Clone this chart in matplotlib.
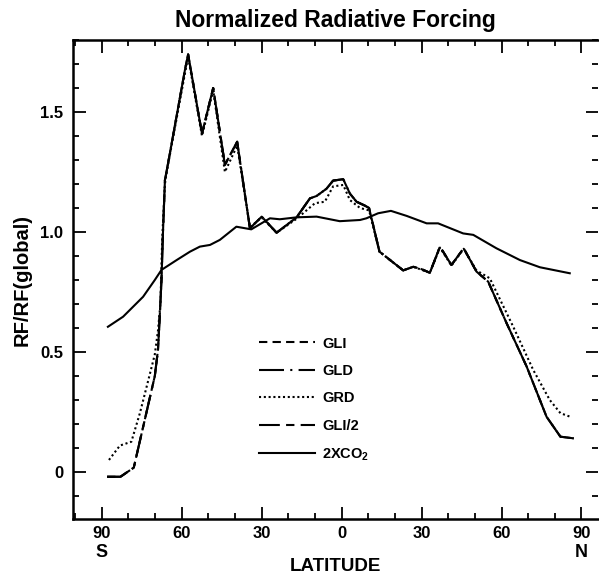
import numpy as np
import matplotlib
matplotlib.use("Agg")
import matplotlib.pyplot as plt
from matplotlib.ticker import FixedLocator, MultipleLocator, FuncFormatter

plt.rcParams["font.family"] = ["Liberation Sans", "DejaVu Sans"]
plt.rcParams["font.weight"] = "bold"
plt.rcParams["mathtext.fontset"] = "custom"
plt.rcParams["mathtext.rm"] = "Liberation Sans:bold"
plt.rcParams["mathtext.bf"] = "Liberation Sans:bold"

# 緯度 (南 = 負, 北 = 正) と値
lat_gli = [-88, -83, -78, -73.3, -70.1, -68.9, -68.2, -67.6, -67.0, -66.3, -65.8,
           -58.8, -57.6, -52.4, -48.2, -43.8, -39.2, -34.4, -30.0, -24.4, -16.9,
           -11.9, -9.4, -5.7, -3.2, 0.6, 3.1, 5.6, 8.7, 10.3, 14.2, 23.1, 26.9,
           30.0, 33.1, 36.9, 41.2, 45.8, 50.6, 55.0, 61.9, 69.4, 76.9, 82.1, 87.1]
rf_gli = [-0.02, -0.02, 0.018, 0.245, 0.40, 0.51, 0.66, 0.80, 1.01, 1.217, 1.245,
          1.675, 1.74, 1.41, 1.60, 1.28, 1.376, 1.015, 1.064, 0.997, 1.061,
          1.14, 1.15, 1.18, 1.214, 1.22, 1.16, 1.126, 1.11, 1.10, 0.918, 0.84, 0.855,
          0.845, 0.83, 0.939, 0.8625, 0.932, 0.835, 0.793, 0.62, 0.44, 0.23, 0.147, 0.14]

lat_gld = lat_gli
rf_gld = [-0.02, -0.02, 0.018, 0.245, 0.40, 0.51, 0.66, 0.80, 1.01, 1.217, 1.245,
          1.675, 1.74, 1.41, 1.60, 1.28, 1.376, 1.015, 1.064, 0.997, 1.061,
          1.14, 1.15, 1.18, 1.214, 1.22, 1.16, 1.126, 1.11, 1.10, 0.918, 0.84, 0.855,
          0.845, 0.83, 0.939, 0.8625, 0.932, 0.835, 0.793, 0.62, 0.44, 0.23, 0.147, 0.14]

lat_gli2 = lat_gli
rf_gli2 = [-0.02, -0.02, 0.018, 0.245, 0.40, 0.51, 0.66, 0.80, 1.01, 1.217, 1.245,
           1.675, 1.74, 1.41, 1.60, 1.28, 1.376, 1.015, 1.064, 0.997, 1.061,
           1.14, 1.15, 1.18, 1.214, 1.22, 1.16, 1.126, 1.11, 1.10, 0.918, 0.84, 0.855,
           0.845, 0.83, 0.939, 0.8625, 0.932, 0.835, 0.793, 0.62, 0.44, 0.23, 0.147, 0.14]

lat_grd = [-87.3, -83.2, -78.9, -75.7, -72.6, -70.1, -68.9, -68.0, -67.3, -66.3, -65.8,
           -58.8, -57.6, -52.4, -48.2, -43.8, -39.2, -34.4, -30.0, -24.4, -16.9,
           -10.0, -6.3, -3.2, 0.6, 3.1, 6.9, 10.3, 14.2, 23.1, 26.9, 33.1, 36.9,
           41.2, 45.8, 50.6, 55.6, 64.4, 71.9, 78.1, 82.1, 85.8]
rf_grd = [0.05, 0.11, 0.126, 0.245, 0.38, 0.49, 0.59, 0.70, 0.98, 1.20, 1.24,
          1.66, 1.73, 1.40, 1.59, 1.25, 1.36, 1.02, 1.06, 0.997, 1.055,
          1.12, 1.126, 1.19, 1.196, 1.133, 1.10, 1.09, 0.918, 0.84, 0.855, 0.83, 0.935,
          0.86, 0.93, 0.84, 0.807, 0.605, 0.425, 0.30, 0.245, 0.23]

lat_co2 = [-87.7, -82, -74.5, -70.1, -67.6, -61.9, -56.9, -53.2, -49.4, -45.7, -39.5,
           -33.9, -26.9, -23.2, -16.9, -9.4, -0.7, 6.9, 9.3, 13.7, 18.5, 24.4, 31.9,
           36.2, 45.6, 49.4, 58.1, 66.9, 74.4, 85.6]
rf_co2 = [0.605, 0.647, 0.73, 0.80, 0.842, 0.883, 0.918, 0.939, 0.946, 0.967, 1.022,
          1.011, 1.057, 1.053, 1.061, 1.064, 1.045, 1.05, 1.057, 1.078, 1.088, 1.067, 1.036,
          1.036, 0.994, 0.988, 0.932, 0.883, 0.853, 0.828]

x_ticks = [-90, -60, -30, 0, 30, 60, 90]
y_ticks = [0, 0.5, 1.0, 1.5]
y_labels = ["0", "0.5", "1.0", "1.5"]

fig = plt.figure(figsize=(5.99, 5.74), dpi=100)
ax = fig.add_axes([73 / 599, 1 - 519 / 574, 525 / 599, 479 / 574])

lw = 1.5
ax.plot(lat_gli, rf_gli, color="black", lw=lw, ls=(0, (4, 2.5)), label="GLI")
ax.plot(lat_gld, rf_gld, color="black", lw=lw, ls=(0, (12, 3, 1, 3)), label="GLD")
ax.plot(lat_grd, rf_grd, color="black", lw=lw, ls=(0, (1, 1.3)), label="GRD")
ax.plot(lat_gli2, rf_gli2, color="black", lw=lw, ls=(0, (10, 3, 4, 3)), label="GLI/2")
ax.plot(lat_co2, rf_co2, color="black", lw=lw, ls="-", label="2XCO$_2$")

ax.set_xlim(-100.8, 96.2)
ax.set_ylim(-0.196, 1.8)

ax.xaxis.set_major_locator(FixedLocator(x_ticks))
ax.xaxis.set_minor_locator(MultipleLocator(10))
ax.xaxis.set_major_formatter(FuncFormatter(lambda v, p: f"{abs(int(round(v)))}"))
ax.yaxis.set_major_locator(FixedLocator(y_ticks))
ax.yaxis.set_minor_locator(MultipleLocator(0.1))
ax.set_yticklabels(y_labels)

ax.tick_params(which="both", direction="in", top=True, right=True, width=1.3)
ax.tick_params(which="major", length=9, labelsize=12, pad=5)
ax.tick_params(which="minor", length=4.5)
ax.tick_params(axis="y", which="major", pad=7)
for s in ["left", "bottom", "top"]:
    ax.spines[s].set_linewidth(1.8)
ax.spines["right"].set_visible(False)

ax.set_title("Normalized Radiative Forcing", fontsize=16.5, fontweight="bold", pad=9)
ax.set_ylabel("RF/RF(global)", fontsize=14.5, fontweight="bold", labelpad=6)
ax.set_xlabel("LATITUDE", fontsize=13.5, fontweight="bold", labelpad=12)

ax.text(-90, -0.069, "S", transform=ax.get_xaxis_transform(), ha="center", va="center",
        fontsize=13, fontweight="bold")
ax.text(90, -0.069, "N", transform=ax.get_xaxis_transform(), ha="center", va="center",
        fontsize=13, fontweight="bold")

ax.legend(loc="upper left", bbox_to_anchor=(0.355, 0.381), frameon=False, fontsize=10.5,
          handlelength=3.8, handletextpad=0.5, labelspacing=0.92, borderpad=0,
          borderaxespad=0)

plt.savefig("out.png", dpi=100)
